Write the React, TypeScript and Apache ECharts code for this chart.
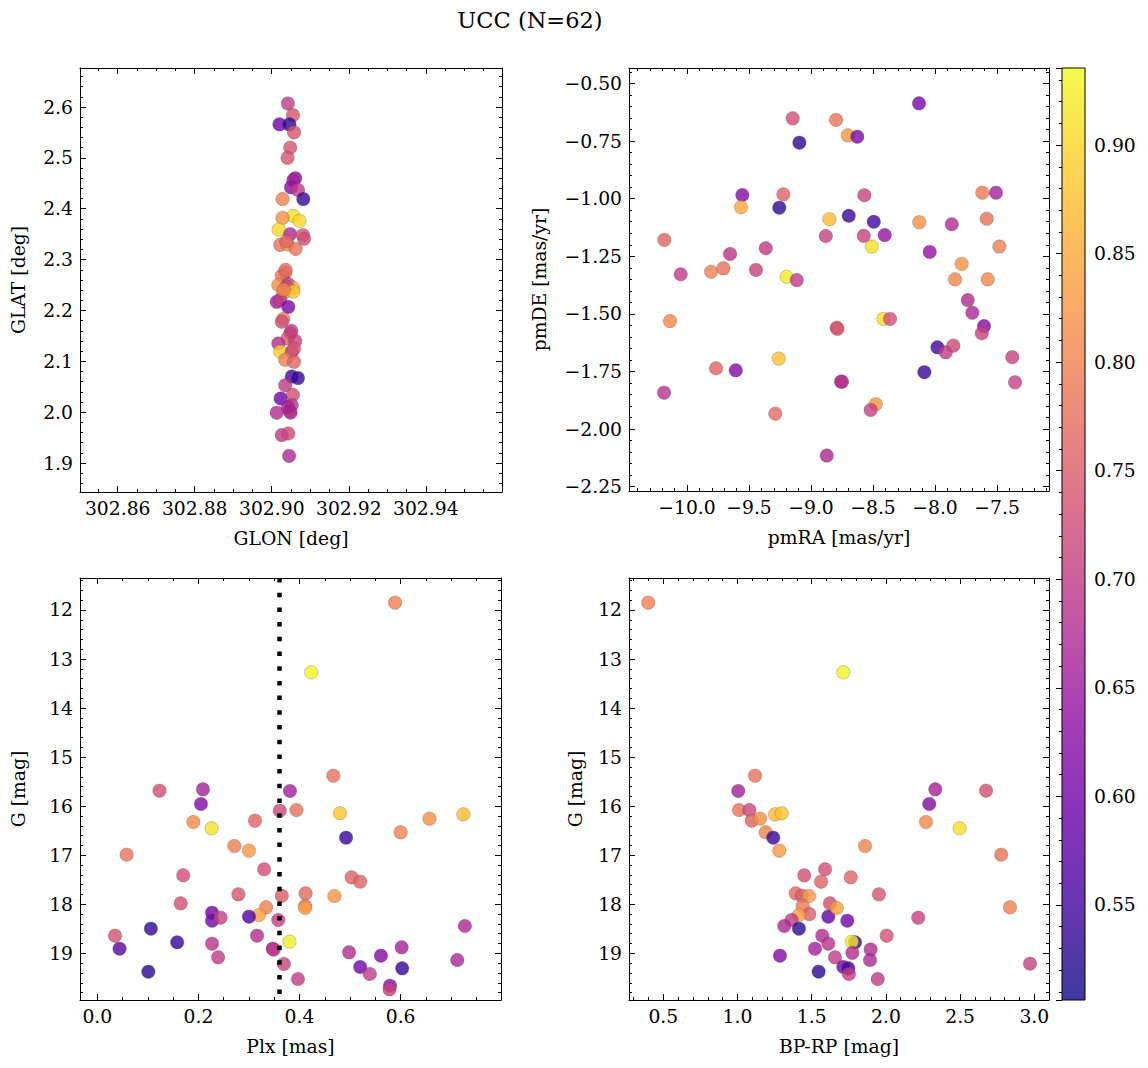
import React, { useEffect, useRef } from "react";
import * as echarts from "echarts";

const TITLE = "UCC (N=62)";
const PROB_MIN = 0.5062;
const PROB_MAX = 0.9355;
const PLASMA = ["#0d0887", "#41049d", "#6a00a8", "#8f0da4", "#b12a90", "#cc4778", "#e16462", "#f2844b", "#fca636", "#fcce25", "#f0f921"];
const PLX_REF = 0.359;

// [GLON, GLAT, probability]
const posPoints = [
  [302.9042, 2.607, 0.7], [302.9055, 2.584, 0.74], [302.902, 2.566, 0.6], [302.9046, 2.566, 0.53],
  [302.9058, 2.55, 0.74], [302.9048, 2.52, 0.74], [302.9041, 2.5, 0.74], [302.9061, 2.46, 0.64],
  [302.9056, 2.456, 0.66], [302.905, 2.442, 0.63], [302.9068, 2.437, 0.7], [302.9082, 2.419, 0.54],
  [302.9028, 2.419, 0.8], [302.9056, 2.386, 0.91], [302.9072, 2.376, 0.9], [302.9028, 2.382, 0.82],
  [302.9018, 2.359, 0.9], [302.9048, 2.35, 0.67], [302.9081, 2.348, 0.74], [302.9084, 2.341, 0.73],
  [302.9022, 2.329, 0.78], [302.9041, 2.33, 0.83], [302.9062, 2.321, 0.78], [302.9035, 2.274, 0.78],
  [302.9026, 2.268, 0.78], [302.9017, 2.25, 0.82], [302.9043, 2.252, 0.72], [302.9056, 2.244, 0.86],
  [302.9039, 2.247, 0.71], [302.903, 2.234, 0.82], [302.9056, 2.237, 0.88], [302.9013, 2.217, 0.65],
  [302.9022, 2.221, 0.7], [302.9043, 2.207, 0.61], [302.903, 2.183, 0.79], [302.9026, 2.178, 0.73],
  [302.9048, 2.155, 0.72], [302.9041, 2.145, 0.76], [302.9061, 2.14, 0.71], [302.9017, 2.135, 0.68],
  [302.9022, 2.119, 0.89], [302.9052, 2.119, 0.71], [302.9035, 2.103, 0.8], [302.9058, 2.099, 0.76],
  [302.9052, 2.07, 0.55], [302.9068, 2.067, 0.54], [302.9035, 2.053, 0.7], [302.9055, 2.034, 0.73],
  [302.9023, 2.027, 0.6], [302.9052, 2.014, 0.7], [302.9013, 1.999, 0.68], [302.9049, 1.999, 0.67],
  [302.9046, 2.002, 0.69], [302.9026, 1.955, 0.7], [302.9043, 1.958, 0.72], [302.9045, 1.914, 0.67],
  [302.9038, 2.336, 0.76], [302.9051, 2.16, 0.7], [302.9031, 2.241, 0.8], [302.9058, 2.125, 0.74],
  [302.9042, 2.01, 0.66], [302.9036, 2.28, 0.77],
];

// [pmRA, pmDE, probability]
const pmPoints = [
  [-10.183, -1.179, 0.76], [-10.051, -1.328, 0.7], [-9.806, -1.317, 0.8], [-9.707, -1.302, 0.78],
  [-9.653, -1.24, 0.69], [-9.554, -0.984, 0.62], [-9.565, -1.037, 0.85], [-9.444, -1.309, 0.71],
  [-9.365, -1.215, 0.7], [-9.223, -0.981, 0.76], [-9.256, -1.039, 0.53], [-9.196, -1.339, 0.92],
  [-9.115, -1.353, 0.7], [-9.148, -0.651, 0.73], [-9.094, -0.757, 0.53], [-8.798, -0.658, 0.78],
  [-8.704, -0.725, 0.83], [-8.627, -0.731, 0.61], [-8.129, -0.586, 0.61], [-8.57, -0.985, 0.71],
  [-8.852, -1.089, 0.87], [-8.696, -1.074, 0.54], [-8.494, -1.1, 0.55], [-8.881, -1.162, 0.71],
  [-8.575, -1.161, 0.71], [-8.406, -1.158, 0.64], [-8.51, -1.208, 0.91], [-8.127, -1.102, 0.82],
  [-7.865, -1.111, 0.68], [-7.619, -0.974, 0.79], [-7.508, -0.974, 0.66], [-7.583, -1.087, 0.78],
  [-8.043, -1.231, 0.64], [-7.481, -1.208, 0.8], [-7.785, -1.283, 0.82], [-7.839, -1.35, 0.81],
  [-7.575, -1.35, 0.81], [-10.137, -1.531, 0.81], [-10.185, -1.842, 0.69], [-9.766, -1.736, 0.76],
  [-9.607, -1.745, 0.62], [-9.26, -1.694, 0.88], [-9.288, -1.933, 0.77], [-8.793, -1.56, 0.75],
  [-8.787, -1.565, 0.74], [-8.758, -1.794, 0.66], [-8.75, -1.794, 0.69], [-8.873, -2.115, 0.67],
  [-8.417, -1.522, 0.91], [-8.363, -1.522, 0.73], [-8.478, -1.892, 0.83], [-8.519, -1.917, 0.71],
  [-8.086, -1.753, 0.54], [-7.981, -1.645, 0.55], [-7.914, -1.667, 0.7], [-7.852, -1.638, 0.72],
  [-7.736, -1.44, 0.68], [-7.699, -1.495, 0.67], [-7.605, -1.553, 0.62], [-7.623, -1.584, 0.71],
  [-7.377, -1.688, 0.71], [-7.355, -1.797, 0.71],
];

// [Plx, G, probability]
const plxPoints = [
  [0.123, 15.684, 0.73], [0.209, 15.656, 0.66], [0.205, 15.955, 0.62], [0.19, 16.322, 0.81],
  [0.226, 16.451, 0.91], [0.312, 16.296, 0.76], [0.361, 16.092, 0.72], [0.381, 15.69, 0.66],
  [0.394, 16.078, 0.78], [0.058, 16.989, 0.78], [0.271, 16.811, 0.8], [0.3, 16.907, 0.83],
  [0.33, 17.286, 0.73], [0.17, 17.409, 0.73], [0.165, 17.98, 0.73], [0.279, 17.796, 0.74],
  [0.365, 17.825, 0.75], [0.334, 18.061, 0.8], [0.32, 18.218, 0.84], [0.3, 18.253, 0.56],
  [0.227, 18.171, 0.6], [0.227, 18.334, 0.6], [0.244, 18.273, 0.71], [0.358, 18.32, 0.7],
  [0.106, 18.497, 0.53], [0.035, 18.64, 0.73], [0.044, 18.905, 0.57], [0.158, 18.775, 0.54],
  [0.227, 18.803, 0.69], [0.316, 18.64, 0.68], [0.239, 19.081, 0.7], [0.347, 18.905, 0.66],
  [0.349, 18.925, 0.7], [0.101, 19.374, 0.53], [0.369, 19.217, 0.71], [0.38, 18.762, 0.92],
  [0.397, 19.523, 0.7], [0.589, 11.851, 0.8], [0.423, 13.27, 0.93], [0.467, 15.378, 0.78],
  [0.48, 16.145, 0.88], [0.657, 16.255, 0.82], [0.724, 16.165, 0.87], [0.6, 16.532, 0.8],
  [0.492, 16.642, 0.54], [0.503, 17.45, 0.76], [0.52, 17.539, 0.76], [0.412, 17.776, 0.77],
  [0.411, 18.035, 0.79], [0.411, 18.075, 0.84], [0.469, 17.831, 0.83], [0.727, 18.442, 0.67],
  [0.498, 18.979, 0.68], [0.561, 19.048, 0.62], [0.602, 18.877, 0.66], [0.52, 19.278, 0.6],
  [0.539, 19.421, 0.7], [0.603, 19.305, 0.54], [0.712, 19.136, 0.67], [0.579, 19.66, 0.62],
  [0.578, 19.733, 0.71],
];

// [BP-RP, G, probability]
const cmdPoints = [
  [0.399, 11.851, 0.8], [1.118, 15.378, 0.78], [1.005, 15.69, 0.66], [1.01, 16.078, 0.78],
  [1.08, 16.078, 0.72], [1.096, 16.296, 0.76], [1.152, 16.255, 0.82], [1.253, 16.165, 0.87],
  [1.298, 16.145, 0.88], [1.19, 16.532, 0.8], [1.241, 16.642, 0.54], [1.282, 16.907, 0.83],
  [1.45, 17.409, 0.73], [1.59, 17.286, 0.73], [1.563, 17.539, 0.76], [1.392, 17.776, 0.77],
  [1.433, 17.825, 0.75], [1.482, 17.831, 0.83], [1.439, 18.035, 0.79], [1.484, 18.2, 0.75],
  [1.414, 18.218, 0.84], [1.365, 18.32, 0.7], [1.315, 18.442, 0.67], [1.414, 18.497, 0.53],
  [1.612, 18.253, 0.58], [1.623, 17.98, 0.73], [1.571, 18.64, 0.68], [1.612, 18.803, 0.69],
  [1.522, 18.905, 0.66], [1.657, 19.081, 0.7], [1.286, 19.048, 0.62], [1.547, 19.374, 0.53],
  [1.713, 13.27, 0.93], [2.333, 15.656, 0.66], [2.292, 15.955, 0.62], [2.27, 16.322, 0.81],
  [2.497, 16.451, 0.91], [2.675, 15.684, 0.73], [1.859, 16.811, 0.8], [2.777, 16.989, 0.78],
  [1.763, 17.45, 0.76], [1.953, 17.796, 0.74], [1.668, 18.075, 0.84], [2.836, 18.061, 0.8],
  [2.218, 18.273, 0.71], [1.74, 18.334, 0.6], [2.005, 18.64, 0.73], [1.792, 18.775, 0.54],
  [1.77, 18.762, 0.92], [1.897, 18.92, 0.68], [1.893, 19.136, 0.67], [1.774, 18.99, 0.68],
  [1.713, 19.278, 0.6], [1.747, 19.305, 0.55], [1.751, 19.421, 0.7], [1.945, 19.523, 0.7],
  [2.971, 19.21, 0.71],
];

const SERIF = "'DejaVu Serif', serif";
const FS = 18.75;
const lineStyle = { color: "#000", width: 1 };
const fmt = (d: number) => (v: number) => v.toFixed(d).replace("-", "\u2212");

type AxisCfg = { min: number; max: number; step: number; minor: number; dec: number; name: string; nameGap: number; inverse?: boolean };

function axisPair(dim: "x" | "y", grid: number, c: AxisCfg) {
  const base: any = {
    type: "value",
    gridIndex: grid,
    min: c.min,
    max: c.max,
    minInterval: c.step,
    maxInterval: c.step,
    inverse: !!c.inverse,
    splitLine: { show: false },
    axisLine: { show: true, onZero: false, lineStyle },
    axisTick: { show: true, inside: true, length: 6, lineStyle },
    minorTick: { show: true, splitNumber: c.minor, length: 3, lineStyle },
    minorSplitLine: { show: false },
  };
  const labelled = {
    ...base,
    position: dim === "x" ? "bottom" : "left",
    name: c.name,
    nameLocation: "middle",
    nameGap: c.nameGap,
    nameTextStyle: { fontFamily: SERIF, fontSize: FS, color: "#000" },
    axisLabel: {
      show: true,
      margin: 7,
      formatter: fmt(c.dec),
      fontFamily: SERIF,
      fontSize: FS,
      color: "#000",
      showMinLabel: false,
      showMaxLabel: false,
    },
  };
  const mirror = { ...base, position: dim === "x" ? "top" : "right", axisLabel: { show: false } };
  return [labelled, mirror];
}

const tlX: AxisCfg = { min: 302.8502, max: 302.9598, step: 0.02, minor: 4, dec: 2, name: "GLON [deg]", nameGap: 37 };
const tlY: AxisCfg = { min: 1.843, max: 2.6767, step: 0.1, minor: 5, dec: 1, name: "GLAT [deg]", nameGap: 52 };
const trX: AxisCfg = { min: -10.468, max: -7.081, step: 0.5, minor: 5, dec: 1, name: "pmRA [mas/yr]", nameGap: 37 };
const trY: AxisCfg = { min: -2.2687, max: -0.4327, step: 0.25, minor: 5, dec: 2, name: "pmDE [mas/yr]", nameGap: 80 };
const blX: AxisCfg = { min: -0.0342, max: 0.7985, step: 0.2, minor: 4, dec: 1, name: "Plx [mas]", nameGap: 37 };
const blY: AxisCfg = { min: 11.348, max: 19.951, step: 1, minor: 5, dec: 0, name: "G [mag]", nameGap: 52, inverse: true };
const brX: AxisCfg = { min: 0.2689, max: 3.099, step: 0.5, minor: 5, dec: 1, name: "BP-RP [mag]", nameGap: 37 };
const brY: AxisCfg = { min: 11.348, max: 19.951, step: 1, minor: 5, dec: 0, name: "G [mag]", nameGap: 44, inverse: true };

function scatter(i: number, data: number[][]) {
  return {
    type: "scatter",
    xAxisIndex: 2 * i,
    yAxisIndex: 2 * i,
    data,
    symbolSize: 13.5,
    silent: true,
    itemStyle: { opacity: 0.8, borderColor: "rgba(70,70,70,0.55)", borderWidth: 0.6 },
  };
}

export default function App() {
  const ref = useRef<HTMLDivElement>(null);
  useEffect(() => {
    if (!ref.current) return;
    const chart = echarts.init(ref.current, null, { renderer: "svg" });
    const option: any = {
      animation: false,
      backgroundColor: "#fff",
      textStyle: { fontFamily: SERIF },
      grid: [
        { left: 80, top: 68, width: 422, height: 424 },
        { left: 629, top: 68, width: 420, height: 423 },
        { left: 80, top: 578, width: 421, height: 422 },
        { left: 629, top: 578, width: 420, height: 422 },
        { left: 1062, top: 68, width: 23, height: 932 },
      ],
      xAxis: [
        ...axisPair("x", 0, tlX),
        ...axisPair("x", 1, trX),
        ...axisPair("x", 2, blX),
        ...axisPair("x", 3, brX),
        { type: "value", gridIndex: 4, show: false, min: 0, max: 1 },
      ],
      yAxis: [
        ...axisPair("y", 0, tlY),
        ...axisPair("y", 1, trY),
        ...axisPair("y", 2, blY),
        ...axisPair("y", 3, brY),
        {
          type: "value",
          gridIndex: 4,
          position: "right",
          z: 10,
          min: PROB_MIN,
          max: PROB_MAX,
          minInterval: 0.05,
          maxInterval: 0.05,
          splitLine: { show: false },
          axisLine: { show: false },
          axisTick: { show: true, inside: true, length: 6, lineStyle },
          minorTick: { show: true, splitNumber: 5, length: 3, lineStyle },
          axisLabel: {
            show: true,
            margin: 9,
            formatter: fmt(2),
            fontFamily: SERIF,
            fontSize: FS,
            color: "#000",
            showMinLabel: false,
            showMaxLabel: false,
          },
        },
      ],
      visualMap: {
        type: "continuous",
        show: false,
        min: PROB_MIN,
        max: PROB_MAX,
        dimension: 2,
        seriesIndex: [0, 1, 2, 3],
        inRange: { color: PLASMA },
      },
      series: [
        scatter(0, posPoints),
        scatter(1, pmPoints),
        {
          ...scatter(2, plxPoints),
          markLine: {
            silent: true,
            symbol: ["none", "none"],
            label: { show: false },
            lineStyle: { color: "#000", width: 4.5, type: [4.5, 10.2], opacity: 1 },
            data: [{ xAxis: PLX_REF }],
          },
        },
        scatter(3, cmdPoints),
      ],
      graphic: [
        {
          type: "text",
          x: 530,
          y: 20,
          style: {
            text: TITLE,
            fontFamily: SERIF,
            fontSize: 22.5,
            fill: "#000",
            align: "center",
            verticalAlign: "middle",
          },
        },
        {
          type: "rect",
          z: -1,
          shape: { x: 1062, y: 68, width: 23, height: 932 },
          style: {
            opacity: 0.8,
            fill: new echarts.graphic.LinearGradient(
              0, 1, 0, 0,
              PLASMA.map((c, i) => ({ offset: i / (PLASMA.length - 1), color: c }))
            ),
          },
        },
        {
          type: "rect",
          z: 20,
          shape: { x: 1062, y: 68, width: 23, height: 932 },
          style: { fill: "none", stroke: "#000", lineWidth: 1 },
        },
      ],
    };
    chart.setOption(option);
    return () => chart.dispose();
  }, []);
  return (
    <div
      ref={ref}
      style={{ position: "fixed", left: 0, top: 0, width: 1148, height: 1068, background: "#fff" }}
    />
  );
}
